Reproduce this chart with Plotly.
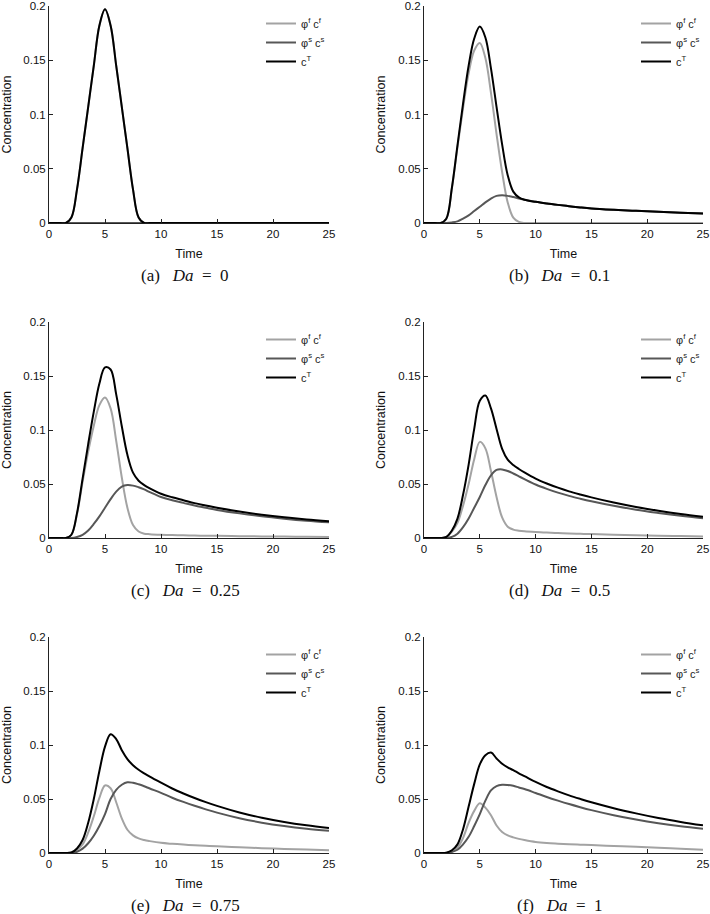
import plotly.graph_objects as go

# ---------------- data ----------------
time = [0, 1, 1.5, 2, 2.5, 3, 3.5, 4, 4.5, 5, 5.5, 6, 6.5, 7, 7.5, 8, 8.5, 9,
        10, 11, 12, 13, 14, 15, 17, 19, 21, 23, 25]

captions = ["(a)", "(b)", "(c)", "(d)", "(e)", "(f)"]
da_values = ["0", "0.1", "0.25", "0.5", "0.75", "1"]
series_names = ["φ<sup>f</sup> c<sup>f</sup>", "φ<sup>s</sup> c<sup>s</sup>", "c<sup>T</sup>"]

# Da = 0
fluid_a = [0, 0, 0, 0.005, 0.031, 0.069, 0.107, 0.145, 0.182, 0.197, 0.182, 0.145, 0.107, 0.069, 0.031, 0.005, 0, 0,
           0, 0, 0, 0, 0, 0, 0, 0, 0, 0, 0]
solid_a = [0, 0, 0, 0, 0, 0, 0, 0, 0, 0, 0, 0, 0, 0, 0, 0, 0, 0,
           0, 0, 0, 0, 0, 0, 0, 0, 0, 0, 0]
total_a = [0, 0, 0, 0.005, 0.031, 0.069, 0.107, 0.145, 0.182, 0.197, 0.182, 0.145, 0.107, 0.069, 0.031, 0.005, 0, 0,
           0, 0, 0, 0, 0, 0, 0, 0, 0, 0, 0]

# Da = 0.1
fluid_b = [0, 0, 0, 0.004, 0.032, 0.070, 0.106, 0.138, 0.159, 0.166, 0.152, 0.120, 0.082, 0.047, 0.019, 0.005, 0.001, 0,
           0, 0, 0, 0, 0, 0, 0, 0, 0, 0, 0]
solid_b = [0, 0, 0, 0, 0.0005, 0.0015, 0.004, 0.007, 0.011, 0.015, 0.019, 0.0225, 0.025, 0.0255, 0.025, 0.0239, 0.0226, 0.0214,
           0.0195, 0.018, 0.0167, 0.0155, 0.0143, 0.0133, 0.0121, 0.0112, 0.0104, 0.0095, 0.0087]
total_b = [0, 0, 0, 0.004, 0.0325, 0.0715, 0.110, 0.145, 0.170, 0.181, 0.171, 0.1425, 0.107, 0.0725, 0.044, 0.0289, 0.0236, 0.0214,
           0.0195, 0.018, 0.0167, 0.0155, 0.0143, 0.0133, 0.0121, 0.0112, 0.0104, 0.0095, 0.0087]

# Da = 0.25
fluid_c = [0, 0, 0, 0.003, 0.022, 0.052, 0.080, 0.104, 0.123, 0.130, 0.120, 0.090, 0.056, 0.028, 0.012, 0.006, 0.004, 0.0035,
           0.003, 0.0027, 0.0025, 0.0023, 0.0021, 0.002, 0.0017, 0.0015, 0.0013, 0.0012, 0.001]
solid_c = [0, 0, 0, 0, 0.001, 0.003, 0.007, 0.013, 0.020, 0.028, 0.036, 0.043, 0.0475, 0.049, 0.0485, 0.047, 0.045, 0.0425,
           0.038, 0.035, 0.0325, 0.030, 0.028, 0.026, 0.0228, 0.0201, 0.0179, 0.016, 0.0145]
total_c = [0, 0, 0, 0.003, 0.023, 0.055, 0.087, 0.117, 0.143, 0.158, 0.156, 0.133, 0.1035, 0.077, 0.0605, 0.053, 0.049, 0.046,
           0.041, 0.0377, 0.035, 0.0323, 0.0301, 0.028, 0.0245, 0.0216, 0.0192, 0.0172, 0.0155]

# Da = 0.5
fluid_d = [0, 0, 0, 0.001, 0.006, 0.014, 0.030, 0.050, 0.073, 0.089, 0.083, 0.062, 0.038, 0.019, 0.0105, 0.0078, 0.0068, 0.0062,
           0.0055, 0.005, 0.0046, 0.0042, 0.0039, 0.0036, 0.003, 0.0025, 0.0021, 0.0018, 0.0015]
solid_d = [0, 0, 0, 0, 0.001, 0.004, 0.010, 0.018, 0.028, 0.038, 0.049, 0.058, 0.063, 0.0635, 0.062, 0.0597, 0.0571, 0.0545,
           0.0495, 0.0455, 0.042, 0.039, 0.0364, 0.034, 0.0298, 0.0262, 0.0232, 0.0205, 0.0182]
total_d = [0, 0, 0, 0.001, 0.007, 0.018, 0.040, 0.068, 0.101, 0.127, 0.132, 0.120, 0.101, 0.0825, 0.0725, 0.0675, 0.0639, 0.0607,
           0.055, 0.0505, 0.0466, 0.0432, 0.0403, 0.0376, 0.0328, 0.0287, 0.0253, 0.0223, 0.0197]

# Da = 0.75
fluid_e = [0, 0, 0, 0.0005, 0.003, 0.008, 0.019, 0.034, 0.051, 0.0625, 0.060, 0.047, 0.032, 0.0215, 0.0163, 0.0135, 0.012, 0.011,
           0.0094, 0.0085, 0.0078, 0.0072, 0.0067, 0.0062, 0.0053, 0.0045, 0.0038, 0.0032, 0.0026]
solid_e = [0, 0, 0, 0, 0.0012, 0.004, 0.009, 0.016, 0.025, 0.036, 0.050, 0.0585, 0.0632, 0.0655, 0.065, 0.0636, 0.0618, 0.0597,
           0.0557, 0.0512, 0.0473, 0.0437, 0.0404, 0.0374, 0.0322, 0.0281, 0.0249, 0.0224, 0.0205]
total_e = [0, 0, 0, 0.0005, 0.0042, 0.012, 0.028, 0.050, 0.076, 0.0985, 0.110, 0.1055, 0.0952, 0.087, 0.0813, 0.0771, 0.0738, 0.0707,
           0.0651, 0.0597, 0.0551, 0.0509, 0.0471, 0.0436, 0.0375, 0.0326, 0.0287, 0.0256, 0.0231]

# Da = 1
fluid_f = [0, 0, 0, 0.0003, 0.0015, 0.005, 0.014, 0.028, 0.039, 0.046, 0.042, 0.035, 0.0255, 0.0195, 0.0163, 0.0145, 0.0131, 0.012,
           0.0102, 0.0092, 0.0086, 0.0081, 0.0077, 0.0073, 0.0065, 0.0057, 0.0048, 0.004, 0.0031]
solid_f = [0, 0, 0, 0, 0.001, 0.003, 0.008, 0.015, 0.025, 0.036, 0.0485, 0.058, 0.062, 0.0632, 0.063, 0.0622, 0.0607, 0.0592,
           0.0556, 0.0519, 0.0485, 0.0453, 0.0424, 0.0397, 0.035, 0.031, 0.0276, 0.0248, 0.0225]
total_f = [0, 0, 0, 0.0003, 0.0025, 0.008, 0.022, 0.043, 0.064, 0.082, 0.0905, 0.093, 0.0875, 0.0827, 0.0793, 0.0767, 0.0738, 0.0712,
           0.0658, 0.0611, 0.0571, 0.0534, 0.0501, 0.047, 0.0415, 0.0367, 0.0324, 0.0288, 0.0256]

x_ticks = [0, 5, 10, 15, 20, 25]
y_ticks = [0, 0.05, 0.1, 0.15, 0.2]
y_tick_labels = ["0", "0.05", "0.1", "0.15", "0.2"]

panels = [
    (fluid_a, solid_a, total_a),
    (fluid_b, solid_b, total_b),
    (fluid_c, solid_c, total_c),
    (fluid_d, solid_d, total_d),
    (fluid_e, solid_e, total_e),
    (fluid_f, solid_f, total_f),
]

# ---------------- layout geometry ----------------
W, H = 710, 914
col_px = [(49, 329), (424, 703)]
row_px = [(6, 223), (322, 538), (637, 853)]
colors = ["#a3a3a3", "#575757", "#000000"]

SANS = "Liberation Sans, Arial, sans-serif"
SERIF = "Liberation Serif, Times New Roman, serif"
NB = "&nbsp;"

fig = go.Figure()
layout = dict(
    width=W, height=H,
    margin=dict(l=0, r=0, t=0, b=0, autoexpand=False),
    paper_bgcolor="white", plot_bgcolor="white",
    font=dict(family=SANS, size=11, color="#111"),
    annotations=[],
)

for i, (fl, so, to) in enumerate(panels):
    r, c = divmod(i, 2)
    x0, x1 = col_px[c]
    yt, yb = row_px[r]
    n = i + 1
    xa = "xaxis" if n == 1 else f"xaxis{n}"
    ya = "yaxis" if n == 1 else f"yaxis{n}"
    xref = "x" if n == 1 else f"x{n}"
    yref = "y" if n == 1 else f"y{n}"
    lg = "legend" if n == 1 else f"legend{n}"

    for k, (vals, name) in enumerate(zip((fl, so, to), series_names)):
        fig.add_trace(go.Scatter(
            x=time, y=vals, mode="lines", name=name,
            line=dict(color=colors[k], width=2, shape="spline", smoothing=1.0),
            xaxis=xref, yaxis=yref, legend=lg, showlegend=True, cliponaxis=False,
        ))

    common = dict(showline=True, linecolor="#222", linewidth=1, ticks="inside",
                  ticklen=4, tickcolor="#222", showgrid=False, zeroline=False,
                  mirror=False, automargin=False,
                  tickfont=dict(family=SANS, size=11.5, color="#111"))
    layout[xa] = dict(domain=[x0 / W, x1 / W], anchor=yref, range=[0, 25],
                      tickvals=x_ticks, title=dict(text="Time", standoff=10,
                                                   font=dict(family=SANS, size=12.5)),
                      **common)
    layout[ya] = dict(domain=[1 - yb / H, 1 - yt / H], anchor=xref, range=[0, 0.2],
                      tickvals=y_ticks, ticktext=y_tick_labels,
                      title=dict(text="Concentration", standoff=9,
                                 font=dict(family=SANS, size=12.5)),
                      **common)
    layout[lg] = dict(x=(x0 + 212) / W, xanchor="left", y=1 - (yt + 3) / H, yanchor="top",
                      bgcolor="rgba(0,0,0,0)", borderwidth=0,
                      font=dict(family=SANS, size=11, color="#222"),
                      tracegroupgap=0, itemwidth=30)
    layout["annotations"].append(dict(
        text=f"{captions[i]}{NB * 3}<i>Da</i>{NB * 2}={NB * 2}{da_values[i]}",
        x=((x0 + x1) / 2 - 4) / W, y=1 - (yb + 52) / H, xref="paper", yref="paper",
        xanchor="center", yanchor="middle", showarrow=False,
        font=dict(family=SERIF, size=17, color="#111"),
    ))

fig.update_layout(**layout)
fig.write_html(
    "out.html",
    config={"displayModeBar": False},
    post_script="document.body.style.margin='0';document.body.style.overflow='hidden';",
)
